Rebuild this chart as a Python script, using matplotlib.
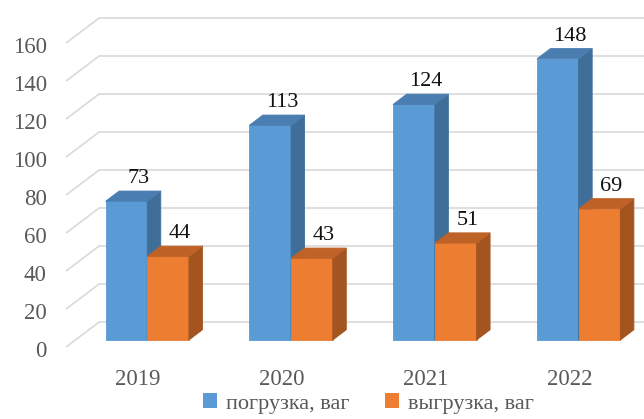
import matplotlib.pyplot as plt
from matplotlib.patches import Polygon, Patch

plt.rcParams['font.family'] = ['Liberation Serif', 'DejaVu Serif']

years = ['2019', '2020', '2021', '2022']
loading = [73, 113, 124, 148]
unloading = [44, 43, 51, 69]
series_names = ['погрузка, ваг', 'выгрузка, ваг']
yticks = [0, 20, 40, 60, 80, 100, 120, 140, 160]

# colours: front, side, top
blue = ['#5B9BD5', '#3F6E99', '#4A7DB0']
orange = ['#ED7D31', '#A3541F', '#BF6227']

# depth of the 3d box: full shift from the front plane to the back wall
DX = 0.2295
DY = 13.16
bar_w = 0.29
d_front = 0.28
d_back = 0.69

fig = plt.figure(figsize=(6.44, 4.19), dpi=100)
ax = fig.add_axes([0, 0, 1, 1])
ax.set_xlim(-0.9597, 3.5187)
ax.set_ylim(-37.89, 182.63)
ax.axis('off')


def shift(x, y, d):
    return (x + d * DX, y + d * DY)


# gridlines: diagonal on the left side wall plus the line along the back wall
grid_col = '#D9D9D9'
left = -0.5
for v in yticks:
    x0, y0 = shift(left, v, 0)
    x1, y1 = shift(left, v, 1)
    ax.plot([x0, x1, 3.6], [y0, y1, y1], color=grid_col, lw=1.2, zorder=1,
            solid_capstyle='butt')
    ax.text(left - 0.135, v - 5.3, str(v), ha='right', va='baseline',
            fontsize=16.5, color='#595959')


def bar3d(x0, v, cols, z):
    x1 = x0 + bar_w
    front = [shift(x0, 0, d_front), shift(x1, 0, d_front),
             shift(x1, v, d_front), shift(x0, v, d_front)]
    side = [shift(x1, 0, d_front), shift(x1, 0, d_back),
            shift(x1, v, d_back), shift(x1, v, d_front)]
    top = [shift(x0, v, d_front), shift(x1, v, d_front),
           shift(x1, v, d_back), shift(x0, v, d_back)]
    for pts, c in zip([front, side, top], cols):
        ax.add_patch(Polygon(pts, closed=True, facecolor=c, edgecolor=c,
                             lw=0.6, zorder=z))
    # value label above the top face
    ax.text(x0 + bar_w / 2 + 0.146, v + 13.3, str(v), ha='center',
            va='baseline', fontsize=16, color='#111111', zorder=10)


for i, yr in enumerate(years):
    bar3d(i - bar_w, loading[i], blue, 3)
    bar3d(i, unloading[i], orange, 4)
    ax.text(i, -20, yr, ha='center', va='baseline', fontsize=16.5,
            color='#595959')

handles = [Patch(facecolor=blue[0]), Patch(facecolor=orange[0])]
fig.legend(handles, series_names, loc='lower center',
           bbox_to_anchor=(0.572, -0.035), ncol=2, frameon=False,
           fontsize=16, handlelength=0.65, handleheight=0.65,
           handletextpad=0.4, columnspacing=1.6, labelcolor='#595959')

plt.savefig('out.png', dpi=100)
